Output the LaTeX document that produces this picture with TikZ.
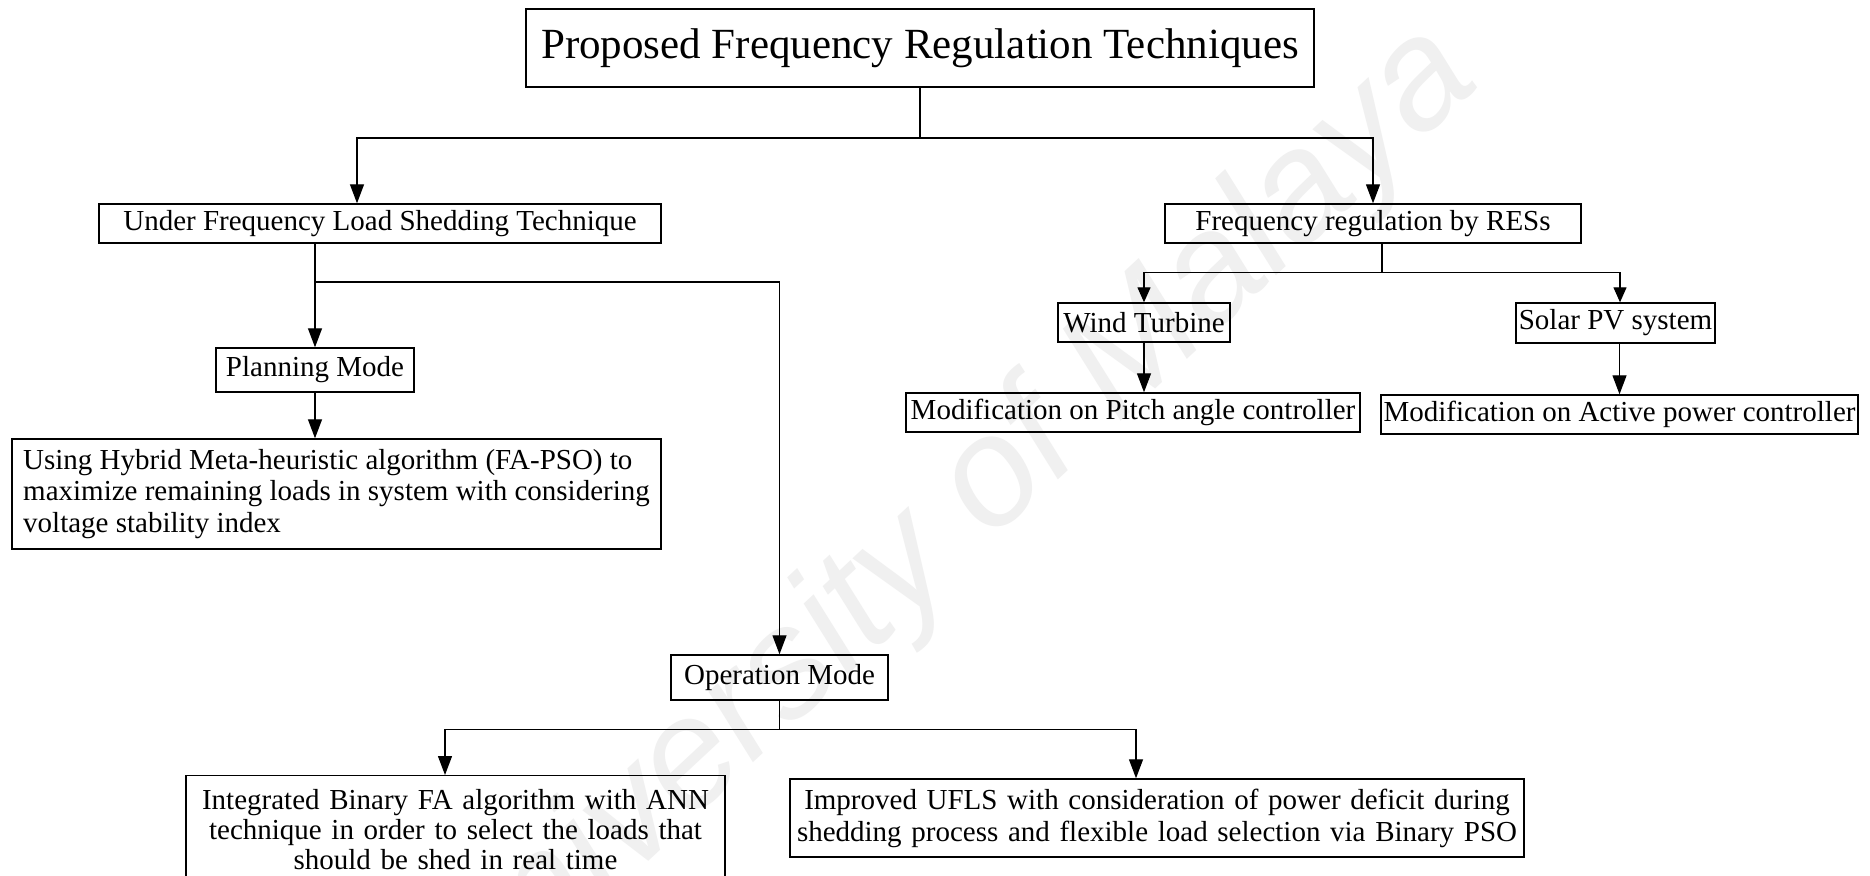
\documentclass[tikz,border=0pt]{standalone}
\usepackage{fontspec}
\setmainfont{Liberation Serif}
\newfontfamily\wmfont{Liberation Sans}
\usetikzlibrary{arrows.meta}
\begin{document}
\begin{tikzpicture}[x=1pt,y=-1pt,
  box/.style={draw, line width=1.4pt, inner sep=0pt, font=\fontsize{29}{31}\selectfont},
  ln/.style={line width=1.3pt},
  arr/.style={line width=1.3pt, -{Triangle[length=19pt,width=14pt]}},
  arrs/.style={line width=1.3pt, -{Triangle[length=15pt,width=13pt]}}
]
\fill[white] (0,0) rectangle (1870,875);
\useasboundingbox (0,0) rectangle (1870,875);
\node[rotate=43, text=black!6, inner sep=0pt, font=\wmfont\itshape\fontsize{155}{155}\selectfont] (wm) at (945,530) {University of Malaya};

\node[box, minimum width=788pt, minimum height=78pt, font=\fontsize{43}{48}\selectfont] (top) at (920,48) {Proposed Frequency Regulation Techniques};
\node[box, minimum width=562pt, minimum height=39pt] (ufls) at (380,223.5) {Under Frequency Load Shedding Technique};
\node[box, minimum width=416pt, minimum height=39pt] (res) at (1373,223.5) {Frequency regulation by RESs};
\node[box, minimum width=172pt, minimum height=39pt] (wind) at (1144,322.5) {Wind Turbine};
\node[box, minimum width=199pt, minimum height=40pt] (solar) at (1615.5,323) {Solar PV system};
\node[box, minimum width=454pt, minimum height=39pt] (pitch) at (1133,412.5) {Modification on Pitch angle controller};
\node[box, minimum width=477pt, minimum height=39pt] (active) at (1619.5,414.5) {Modification on Active power controller};
\node[box, minimum width=198pt, minimum height=44pt] (plan) at (315,370) {Planning Mode};
\node[box, minimum width=649pt, minimum height=110pt, align=left, font=\fontsize{29}{31.5}\selectfont] (big) at (336.5,494) {Using Hybrid Meta-heuristic algorithm (FA-PSO) to\\ maximize remaining loads in system with considering\\ voltage stability index};
\node[box, minimum width=217pt, minimum height=45pt] (op) at (779.5,677.5) {Operation Mode};
\node[box, anchor=north, text width=539pt, align=center, inner ysep=14pt, font=\fontsize{29}{30}\selectfont] (bin) at (455.5,775) {Integrated Binary FA algorithm with ANN\\ technique in order to select the loads that\\ should be shed in real time};
\node[box, minimum width=734pt, minimum height=78pt, text width=734pt, align=center, font=\fontsize{29}{32}\selectfont] (imp) at (1157,818) {Improved UFLS with consideration of power deficit during\\ shedding process and flexible load selection via Binary PSO};

\coordinate (j1) at (920,138);
\draw[ln] (top.south) -- (j1);
\draw[arr] (j1) -| ([xshift=-23pt]ufls.north);
\draw[arr] (j1) -| (res.north);

\coordinate (j2) at (315,282);
\draw[arr] (ufls.south -| plan.north) -- (plan.north);
\draw[arr] (j2) -| (op.north);
\draw[arr] (plan.south) -- (plan.south |- big.north);

\draw[ln] ([xshift=9pt]res.south) -- ++(0,29) coordinate (j3);
\draw[arrs] (j3) -| (wind.north);
\draw[arrs] (j3) -| ([xshift=4.5pt]solar.north);
\draw[arr] (wind.south) -- (wind.south |- pitch.north);
\draw[arr] (solar.south -| active.north) -- (active.north);

\draw[ln] (op.south) -- ++(0,29) coordinate (j4);
\draw[arr] (j4) -| ([xshift=-10.5pt]bin.north);
\draw[arr] (j4) -| ([xshift=-21pt]imp.north);
\end{tikzpicture}
\end{document}
